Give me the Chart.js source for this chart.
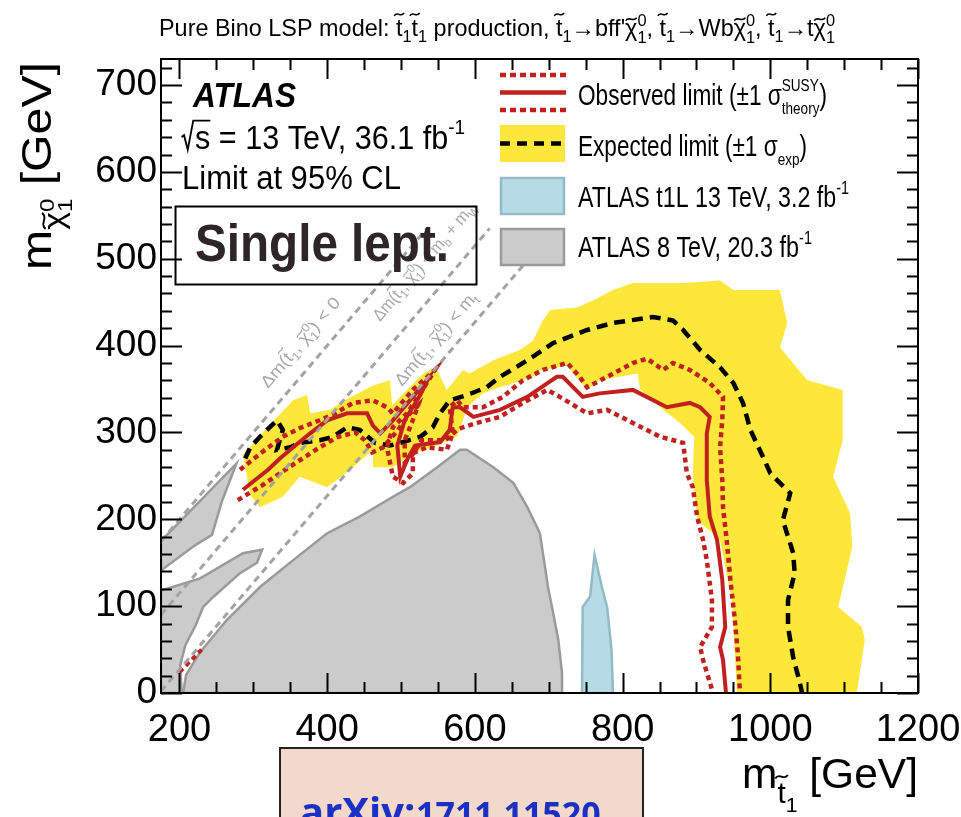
<!DOCTYPE html>
<html>
<head>
<meta charset="utf-8">
<title>Pure Bino LSP model: stop pair exclusion limits</title>
<script src="https://cdn.jsdelivr.net/npm/chart.js@4.4.1/dist/chart.umd.min.js"></script>
<style>
  html, body { margin: 0; padding: 0; background: #ffffff; }
  canvas { display: block; }
</style>
</head>
<body>
<canvas id="limits" width="961" height="817"></canvas>
<script>
// ---- axis ticks (GeV) ----
const stopMassTicks = [200, 400, 600, 800, 1000, 1200];
const lspMassTicks = [0, 100, 200, 300, 400, 500, 600, 700];

// ---- expected limit +-1 sigma band: upper/outer edge, then lower/inner edge back ----
const expectedBandUpper = [[286,274],[316,303],[354,337],[373,343],[377,322],[404,326],[424,337],[462,354],[485,360],[488,331],[499,341],[530,368],[547,375],[562,349],[584,372],[593,368],[625,383],[661,395],[679,406],[692,429],[702,441],[738,444],[760,452],[787,464],[814,472],[882,472],[932,475],[950,464],[1013,464],[1023,426],[1013,398],[1050,360],[1098,349],[1098,291],[1085,249],[1108,207],[1111,168],[1092,99],[1124,76],[1128,61],[1117,0]];
const expectedBandLower = [[955,0],[948,107],[932,176],[922,184],[901,199],[895,253],[897,295],[878,311],[855,326],[824,349],[820,368],[769,360],[752,349],[733,368],[725,377],[706,374],[688,372],[679,364],[634,352],[611,345],[589,329],[584,314],[576,295],[543,283],[516,276],[489,260],[462,260],[462,280],[431,257],[400,237],[363,249],[340,226],[309,214],[296,228]];

// ---- expected limit ----
const expectedLimit = [[289,270],[296,283],[309,295],[332,314],[340,303],[332,280],[350,283],[363,288],[390,291],[408,295],[427,306],[444,303],[465,288],[485,285],[499,288],[526,295],[543,306],[553,322],[566,337],[589,343],[616,352],[634,364],[671,383],[706,403],[752,418],[787,426],[841,433],[868,429],[882,418],[905,395],[932,375],[950,357],[963,334],[973,303],[990,272],[1000,253],[1027,230],[1017,199],[1031,161],[1033,138],[1024,107],[1024,76],[1031,41],[1040,12],[1043,0]];

// ---- observed limit and its +-1 sigma theory variations ----
const observedLimit = [[286,234],[302,245],[320,257],[336,270],[354,283],[377,299],[400,314],[427,322],[454,322],[462,308],[472,299],[489,314],[516,341],[537,362],[526,343],[505,314],[495,285],[499,249],[509,270],[519,285],[553,289],[566,303],[570,329],[580,329],[598,318],[634,326],[671,341],[711,364],[719,364],[746,341],[769,345],[814,349],[860,329],[891,334],[905,329],[918,318],[914,299],[914,245],[918,203],[928,176],[935,130],[939,76],[932,53],[936,38],[940,0]];
const observedPlusTheory = [[282,257],[298,268],[316,280],[340,295],[363,305],[390,314],[411,322],[435,334],[462,337],[481,329],[489,322],[516,349],[546,372],[526,345],[508,322],[489,306],[481,283],[489,249],[503,242],[516,253],[516,276],[535,283],[562,280],[570,299],[566,329],[576,337],[584,329],[611,329],[638,341],[665,360],[692,372],[725,380],[742,364],[752,352],[779,364],[814,380],[833,385],[855,372],[868,380],[891,372],[918,357],[936,341],[935,314],[932,283],[935,245],[936,214],[941,176],[946,130],[952,84],[956,46],[959,0]];
const observedMinusTheory = [[279,222],[296,231],[312,239],[336,253],[363,268],[390,283],[415,295],[438,300],[451,291],[461,277],[476,283],[496,303],[512,322],[523,331],[515,312],[505,291],[505,265],[515,274],[528,291],[560,291],[576,303],[584,306],[603,311],[634,318],[665,334],[698,349],[715,341],[752,322],[779,326],[814,311],[851,295],[882,288],[887,253],[895,237],[901,203],[909,176],[914,153],[921,107],[921,76],[905,53],[909,38],[921,4],[922,0]];
const observedLowMassIsland = [[200,24],[215,37],[230,50]];

// ---- earlier ATLAS exclusions ----
const atlas8TeVMain = [[205,0],[209,21],[228,47],[264,84],[309,122],[354,153],[400,184],[444,203],[489,226],[512,237],[549,260],[580,280],[589,280],[625,260],[652,242],[671,214],[688,184],[695,145],[699,122],[706,92],[713,61],[718,23],[718,0]];
const atlas8TeVDiagonalUpper = [[175,175],[277,264],[258,222],[244,182],[221,170],[175,141]];
const atlas8TeVDiagonalLower = [[175,118],[228,132],[286,161],[312,165],[305,150],[282,138],[245,110],[232,99],[222,78],[208,55],[201,32],[203,0],[175,0]];
const atlasT1L13TeV = [[745,0],[746,99],[756,111],[762,159],[772,122],[779,99],[785,50],[787,0]];

// ---- kinematic boundaries: m(LSP) = m(stop) - offset  (0, m_b + m_W, m_t) ----
const kinematicOffsets = [0, 85, 173];
const kinematicTopMass = 535;

// ---------------------------------------------------------------
const RED = '#c0201e';
const SANS = '"Liberation Sans", Arial, Helvetica, sans-serif';

const pts = a => a.map(([x, y]) => ({ x, y }));
const closed = a => pts(a.concat([a[0]]));

const datasets = [
  { label: 'ATLAS 8 TeV', data: closed(atlas8TeVMain), backgroundColor: '#cbcbcb', borderColor: '#9a9a9a', borderWidth: 2.5, fill: 'shape', order: 20 },
  { label: 'ATLAS 8 TeV (diagonal)', data: closed(atlas8TeVDiagonalUpper), backgroundColor: '#cbcbcb', borderColor: '#9a9a9a', borderWidth: 2.5, fill: 'shape', order: 20 },
  { label: 'ATLAS 8 TeV (diagonal, low)', data: closed(atlas8TeVDiagonalLower), backgroundColor: '#cbcbcb', borderColor: '#9a9a9a', borderWidth: 2.5, fill: 'shape', order: 20 },
  { label: 'ATLAS t1L 13 TeV', data: closed(atlasT1L13TeV), backgroundColor: '#b5dbe6', borderColor: '#94bac6', borderWidth: 2.5, fill: 'shape', order: 19 },
  { label: 'Expected band', data: closed(expectedBandUpper.concat(expectedBandLower)), backgroundColor: '#fde73b', borderWidth: 0, borderColor: 'rgba(0,0,0,0)', fill: 'shape', order: 18 },
  { label: 'Expected limit', data: pts(expectedLimit), borderColor: '#000000', borderWidth: 4.5, borderDash: [11, 7], fill: false, order: 6 },
  { label: 'Observed +1 sigma', data: pts(observedPlusTheory), borderColor: RED, borderWidth: 4.5, borderDash: [5, 4], fill: false, order: 5 },
  { label: 'Observed -1 sigma', data: pts(observedMinusTheory), borderColor: RED, borderWidth: 4.5, borderDash: [5, 4], fill: false, order: 5 },
  { label: 'Observed island', data: pts(observedLowMassIsland), borderColor: RED, borderWidth: 4, borderDash: [5, 4], fill: false, order: 5 },
  { label: 'Observed limit', data: pts(observedLimit), borderColor: RED, borderWidth: 4, fill: false, order: 4 }
];
kinematicOffsets.forEach((off, i) => {
  datasets.push({
    label: 'kinematic ' + i,
    data: [{ x: 175, y: 175 - off }, { x: kinematicTopMass + off, y: kinematicTopMass }],
    borderColor: '#a3a3a3', borderWidth: 3, borderDash: [7, 5], fill: false, order: 1
  });
});
datasets.forEach(d => { d.showLine = true; d.pointRadius = 0; d.tension = 0; });

// ---------- rich text helpers (sub/superscripts, tildes, radicals) ----------
function fontStr(size, weight, style) {
  return (style || 'normal') + ' ' + (weight || 'normal') + ' ' + size + 'px ' + SANS;
}
function layoutRuns(ctx, runs, size, weight, style) {
  let x = 0, prevX0 = 0;
  const items = [];
  for (const r0 of runs) {
    const r = typeof r0 === 'string' ? { t: r0 } : r0;
    const s = size * (r.s || 1);
    ctx.font = fontStr(s, weight, style);
    const x0 = r.st ? prevX0 : x;
    const pre = r.sqrt ? s * 0.46 : 0;
    const w = ctx.measureText(r.t).width + pre;
    items.push({ r, s, x0, w, pre });
    prevX0 = x0;
    x = Math.max(x, x0 + w);
  }
  return { items, width: x };
}
function drawTilde(ctx, cx, cy, w, s) {
  const a = s * 0.06;
  ctx.beginPath();
  ctx.lineWidth = Math.max(1, s * 0.065);
  ctx.moveTo(cx - w / 2, cy + a);
  ctx.bezierCurveTo(cx - w / 6, cy - 2.6 * a, cx + w / 6, cy + 2.6 * a, cx + w / 2, cy - a);
  ctx.stroke();
}
function drawRich(ctx, runs, x, y, o) {
  const size = o.size;
  const L = layoutRuns(ctx, runs, size, o.weight, o.style);
  ctx.save();
  ctx.translate(x, y);
  if (o.rotate) ctx.rotate(o.rotate);
  const sx = o.width ? o.width / L.width : 1;
  ctx.scale(sx, 1);
  let ox = 0;
  if (o.align === 'right') ox = -L.width;
  else if (o.align === 'center') ox = -L.width / 2;
  ctx.fillStyle = o.color || '#000';
  ctx.strokeStyle = o.color || '#000';
  ctx.textAlign = 'left';
  ctx.textBaseline = 'alphabetic';
  for (const it of L.items) {
    const r = it.r;
    const dy = (r.dy || 0) * size;
    ctx.font = fontStr(it.s, o.weight, o.style);
    const tx = ox + it.x0 + it.pre;
    ctx.fillText(r.t, tx, dy);
    const gw = it.w - it.pre;
    if (r.tl) drawTilde(ctx, tx + gw / 2, dy - r.tl * it.s, Math.max(gw * 0.9, it.s * 0.42), it.s);
    if (r.sqrt) {
      const bx = ox + it.x0, s = it.s;
      ctx.beginPath();
      ctx.lineWidth = s * 0.06;
      ctx.moveTo(bx + 0.02 * s, dy - 0.36 * s);
      ctx.lineTo(bx + 0.10 * s, dy - 0.42 * s);
      ctx.lineTo(bx + 0.22 * s, dy + 0.02 * s);
      ctx.lineTo(bx + 0.40 * s, dy - 0.86 * s);
      ctx.lineTo(bx + it.w, dy - 0.86 * s);
      ctx.stroke();
    }
  }
  ctx.restore();
}

const T1 = [{ t: 't', tl: 0.9 }, { t: '1', s: 0.7, dy: 0.25 }];
const CHI = [{ t: 'χ', tl: 0.7 }, { t: '1', s: 0.7, dy: 0.3 }, { t: '0', s: 0.7, dy: -0.42, st: 1 }];
const SUP_M1 = { t: '-1', s: 0.62, dy: -0.45 };

const titleRuns = ['Pure Bino LSP model: ', ...T1, ...T1, ' production, ', ...T1, '→bff\'', ...CHI, ', ',
  ...T1, '→Wb', ...CHI, ', ', ...T1, '→t', ...CHI];
const deltaM = ['Δm(', ...T1, ', ', ...CHI, ') < '];
const kinematicLabels = [
  [...deltaM, '0'],
  [...deltaM, 'm', { t: 'b', s: 0.7, dy: 0.25 }, ' + m', { t: 'W', s: 0.7, dy: 0.25 }],
  [...deltaM, 'm', { t: 't', s: 0.7, dy: 0.25 }]
];

// ---------- decorations drawn around the plot ----------
const decorations = {
  id: 'decorations',
  afterDraw(chart) {
    const { ctx, chartArea: ca, scales: { x, y } } = chart;
    ctx.save();

    // frame
    ctx.strokeStyle = '#000';
    ctx.lineWidth = 2;
    ctx.setLineDash([]);
    ctx.strokeRect(ca.left, ca.top, ca.right - ca.left, ca.bottom - ca.top);

    // inward tick marks on all four sides
    ctx.lineWidth = 2;
    ctx.beginPath();
    for (let v = 200; v <= 1200; v += 50) {
      const px = Math.round(x.getPixelForValue(v)) + 0.5;
      const len = v % 200 === 0 ? 20 : 11;
      ctx.moveTo(px, ca.bottom); ctx.lineTo(px, ca.bottom - len);
      ctx.moveTo(px, ca.top); ctx.lineTo(px, ca.top + len);
    }
    for (let v = 0; v <= 720; v += 20) {
      const py = Math.round(y.getPixelForValue(v)) + 0.5;
      const len = v % 100 === 0 ? 21 : 11;
      ctx.moveTo(ca.left, py); ctx.lineTo(ca.left + len, py);
      ctx.moveTo(ca.right, py); ctx.lineTo(ca.right - len, py);
    }
    ctx.stroke();

    // labels along the kinematic boundaries
    const ang = -Math.atan2(y.getPixelForValue(0) - y.getPixelForValue(100),
                            x.getPixelForValue(275) - x.getPixelForValue(175));
    const labelAnchors = [[268, 389, 113], [380, 322, 150], [402, 387, 117]];
    kinematicLabels.forEach((runs, i) => {
      const [lx, ly, lw] = labelAnchors[i];
      drawRich(ctx, runs, lx, ly, { size: 17, rotate: ang, width: lw, color: '#a8a8a8' });
    });

    // title
    drawRich(ctx, titleRuns, 159, 36, { size: 24, width: 676 });

    // ATLAS label block
    drawRich(ctx, ['ATLAS'], 193, 107, { size: 35, weight: 'bold', style: 'italic', width: 103 });
    drawRich(ctx, [{ t: 's', sqrt: true }, ' = 13 TeV, 36.1 fb', SUP_M1], 181, 149, { size: 33, width: 284 });
    drawRich(ctx, ['Limit at 95% CL'], 182, 189, { size: 34, width: 219 });

    // "Single lept." box
    ctx.lineWidth = 2;
    ctx.strokeStyle = '#000';
    ctx.strokeRect(175.5, 206.5, 301, 78);
    drawRich(ctx, ['Single lept.'], 195, 261, { size: 51, weight: 'bold', width: 254, color: '#2e2528' });

    // legend symbols
    ctx.lineCap = 'butt';
    ctx.strokeStyle = RED;
    ctx.lineWidth = 4.5;
    ctx.setLineDash([6, 4]);
    ctx.beginPath(); ctx.moveTo(500, 75); ctx.lineTo(566, 75); ctx.stroke();
    ctx.beginPath(); ctx.moveTo(500, 110); ctx.lineTo(566, 110); ctx.stroke();
    ctx.setLineDash([]);
    ctx.lineWidth = 4.5;
    ctx.beginPath(); ctx.moveTo(500, 92.5); ctx.lineTo(566, 92.5); ctx.stroke();

    ctx.fillStyle = '#fde73b';
    ctx.fillRect(500, 125, 65, 37);
    ctx.strokeStyle = '#000';
    ctx.setLineDash([10, 7]);
    ctx.beginPath(); ctx.moveTo(500, 143.5); ctx.lineTo(566, 143.5); ctx.stroke();
    ctx.setLineDash([]);

    ctx.lineWidth = 2.5;
    ctx.fillStyle = '#b5dbe6'; ctx.strokeStyle = '#94bac6';
    ctx.fillRect(501, 178, 63, 36); ctx.strokeRect(501, 178, 63, 36);
    ctx.fillStyle = '#cbcbcb'; ctx.strokeStyle = '#9a9a9a';
    ctx.fillRect(501, 229, 63, 36); ctx.strokeRect(501, 229, 63, 36);

    // legend text
    drawRich(ctx, ['Observed limit (±1 ', { t: 'σ' }, { t: 'SUSY', s: 0.6, dy: -0.47 }, { t: 'theory', s: 0.6, dy: 0.3, st: 1 }, ')'],
      578, 105, { size: 29, width: 249 });
    drawRich(ctx, ['Expected limit (±1 ', { t: 'σ' }, { t: 'exp', s: 0.6, dy: 0.3 }, ')'], 578, 156, { size: 29, width: 229 });
    drawRich(ctx, ['ATLAS t1L 13 TeV, 3.2 fb', SUP_M1], 578, 207, { size: 29, width: 271 });
    drawRich(ctx, ['ATLAS 8 TeV, 20.3 fb', SUP_M1], 578, 257, { size: 29, width: 234 });

    // axis titles
    drawRich(ctx, ['m', { t: 't', s: 0.7, dy: 0.36, tl: 0.9 }, { t: '1', s: 0.5, dy: 0.56 }, ' [GeV]'],
      918, 788, { size: 42, align: 'right', width: 176 });
    drawRich(ctx, ['m', { t: 'χ', s: 0.7, dy: 0.32, tl: 0.7 }, { t: '1', s: 0.5, dy: 0.5 }, { t: '0', s: 0.5, dy: 0.08, st: 1 }, ' [GeV]'],
      51, 270, { size: 42, rotate: -Math.PI / 2, width: 208 });

    // arXiv reference box at the foot
    ctx.fillStyle = '#f3d9cb';
    ctx.fillRect(280, 748, 363, 90);
    ctx.strokeStyle = '#222';
    ctx.lineWidth = 2;
    ctx.strokeRect(280, 748, 363, 90);
    ctx.fillStyle = '#1c30c4';
    ctx.textBaseline = 'alphabetic';
    ctx.save();
    ctx.font = 'bold 40px "Open Sans", "Noto Sans", sans-serif';
    ctx.fillText('arXiv:', 300, 826);
    ctx.font = 'bold 34px "Open Sans", "Noto Sans", sans-serif';
    ctx.fillText('1711.11520', 416, 826);
    ctx.restore();

    ctx.restore();
  }
};

new Chart(document.getElementById('limits'), {
  type: 'scatter',
  data: { datasets },
  options: {
    responsive: false,
    animation: false,
    devicePixelRatio: 1,
    layout: { padding: { top: 59, right: 43, left: 0, bottom: 0 } },
    plugins: { legend: { display: false }, tooltip: { enabled: false } },
    scales: {
      x: {
        type: 'linear', min: 175, max: 1200,
        grid: { display: false, drawTicks: false },
        border: { display: false },
        afterBuildTicks: s => { s.ticks = stopMassTicks.map(v => ({ value: v })); },
        afterFit: s => { s.height = 124; s.paddingLeft = 0; s.paddingRight = 0; },
        ticks: { autoSkip: false, maxRotation: 0, padding: 15, color: '#000',
                 font: { family: SANS, size: 38 }, callback: v => String(v) }
      },
      y: {
        type: 'linear', min: 0, max: 730,
        grid: { display: false, drawTicks: false },
        border: { display: false },
        afterBuildTicks: s => { s.ticks = lspMassTicks.map(v => ({ value: v })); },
        afterFit: s => { s.width = 161; s.paddingTop = 0; s.paddingBottom = 0; },
        ticks: { autoSkip: false, padding: 4, color: '#000',
                 font: { family: SANS, size: 37 }, callback: v => String(v) }
      }
    }
  },
  plugins: [decorations]
});
</script>
</body>
</html>
